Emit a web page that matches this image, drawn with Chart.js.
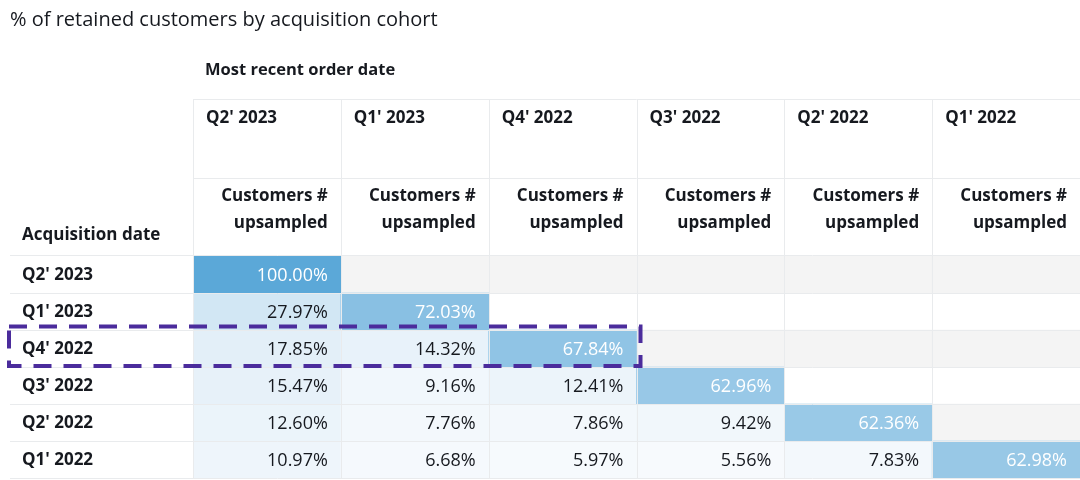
<!DOCTYPE html>
<html><head><meta charset="utf-8">
<script src="https://cdn.jsdelivr.net/npm/chart.js@4.4.1/dist/chart.umd.min.js"></script>
<style>html,body{margin:0;padding:0;background:#fff;}#wrap{width:1080px;height:480px;position:relative;}</style>
</head><body><div id="wrap"><canvas id="c" width="1080" height="480"></canvas></div>
<script>
// ---- data ----
const chartTitle = "% of retained customers by acquisition cohort";
const columnGroupTitle = "Most recent order date";
const rowGroupTitle = "Acquisition date";
const measureLabel = ["Customers #", "upsampled"];
const orderQuarters = ["Q2' 2023", "Q1' 2023", "Q4' 2022", "Q3' 2022", "Q2' 2022", "Q1' 2022"];
const acquisitionQuarters = ["Q2' 2023", "Q1' 2023", "Q4' 2022", "Q3' 2022", "Q2' 2022", "Q1' 2022"];
const retentionQ2_2023 = [100.00, null, null, null, null, null];
const retentionQ1_2023 = [27.97, 72.03, null, null, null, null];
const retentionQ4_2022 = [17.85, 14.32, 67.84, null, null, null];
const retentionQ3_2022 = [15.47, 9.16, 12.41, 62.96, null, null];
const retentionQ2_2022 = [12.60, 7.76, 7.86, 9.42, 62.36, null];
const retentionQ1_2022 = [10.97, 6.68, 5.97, 5.56, 7.83, 62.98];
const highlightedCohort = "Q4' 2022";

const rows = [retentionQ2_2023, retentionQ1_2023, retentionQ4_2022, retentionQ3_2022, retentionQ2_2022, retentionQ1_2022];

// ---- styles ----
const FONT = '"Open Sans", "Noto Sans", sans-serif';
const TEXT = '#16191f';
const GRID = '#e9ebed';
const STRIPE = '#f4f4f4';
function cellColor(v) {
  const lo = [247, 250, 253], hi = [91, 168, 216];
  const t = Math.max(0, Math.min(1, (v - 5.5) / 94.5));
  const c = lo.map((l, i) => Math.round(l + (hi[i] - l) * t));
  return `rgb(${c[0]},${c[1]},${c[2]})`;
}

const datasets = [];
rows.forEach((vals, r) => {
  datasets.push({
    label: acquisitionQuarters[r],
    data: vals.map(v => v == null ? null : [r, r + 1]),
    backgroundColor: vals.map(v => v == null ? 'rgba(0,0,0,0)' : cellColor(v)),
    order: 0
  });
});
acquisitionQuarters.forEach((q, r) => {
  if (r % 2 === 0) datasets.push({
    label: 'stripe' + r,
    data: orderQuarters.map(() => [r, r + 1]),
    backgroundColor: STRIPE,
    order: 10
  });
});

const tablePlugin = {
  id: 'table',
  afterDatasetsDraw(chart) {
    const ctx = chart.ctx;
    const xs = chart.scales.x, ys = chart.scales.y;
    const half = (xs.getPixelForValue(1) - xs.getPixelForValue(0)) / 2;
    const colL = i => xs.getPixelForValue(i) - half;
    const colR = i => xs.getPixelForValue(i) + half;
    const rowT = r => ys.getPixelForValue(r);
    const rowM = r => (ys.getPixelForValue(r) + ys.getPixelForValue(r + 1)) / 2;
    const headerTop = 99, headerMid = 178;
    const tableLeft = 10, W = chart.width;

    ctx.save();
    // grid lines
    ctx.strokeStyle = GRID; ctx.lineWidth = 1;
    const hline = (y, x0, x1) => { ctx.beginPath(); ctx.moveTo(x0, Math.round(y) + 0.5); ctx.lineTo(x1, Math.round(y) + 0.5); ctx.stroke(); };
    const vline = (x, y0, y1) => { ctx.beginPath(); ctx.moveTo(Math.round(x) + 0.5, y0); ctx.lineTo(Math.round(x) + 0.5, y1); ctx.stroke(); };
    hline(headerTop, colL(0), W);
    hline(headerMid, colL(0), W);
    for (let r = 0; r <= rows.length; r++) hline(rowT(r) - (r === 0 ? 1 : 0), tableLeft, W);
    for (let i = 0; i < orderQuarters.length; i++) vline(colL(i), headerTop, rowT(rows.length));

    // texts
    ctx.fillStyle = TEXT;
    ctx.textBaseline = 'middle';
    ctx.textAlign = 'left';
    ctx.font = `400 20px ${FONT}`;
    ctx.fillText(chartTitle, 10, 20);
    ctx.font = `700 16.5px ${FONT}`;
    ctx.fillText(columnGroupTitle, colL(0) + 12, 70);
    ctx.font = `700 17px ${FONT}`;
    ctx.fillText(rowGroupTitle, 22, 235);
    orderQuarters.forEach((q, i) => {
      ctx.textAlign = 'left';
      ctx.fillText(q, colL(i) + 13, 118);
      ctx.textAlign = 'right';
      ctx.fillText(measureLabel[0], colR(i) - 13, 196);
      ctx.fillText(measureLabel[1], colR(i) - 13, 223);
    });
    ctx.textAlign = 'left';
    acquisitionQuarters.forEach((q, r) => ctx.fillText(q, 22, rowM(r) + 1));

    // values
    ctx.font = `400 18px ${FONT}`;
    ctx.textAlign = 'right';
    rows.forEach((vals, r) => vals.forEach((v, i) => {
      if (v == null) return;
      ctx.fillStyle = v > 50 ? '#ffffff' : TEXT;
      ctx.fillText(v.toFixed(2) + '%', colR(i) - 13, rowM(r) + 1);
    }));

    // highlight
    const hr = acquisitionQuarters.indexOf(highlightedCohort);
    const hc = rows[hr].filter(v => v != null).length - 1;
    ctx.strokeStyle = '#4b2c9c';
    ctx.lineWidth = 4;
    ctx.setLineDash([18, 12]);
    const x0 = 9, x1 = colR(hc) + 4, y0 = rowT(hr) - 3.5, y1 = rowT(hr + 1) - 1;
    ctx.strokeRect(x0, y0, x1 - x0, y1 - y0);
    ctx.restore();
  }
};

new Chart(document.getElementById('c'), {
  type: 'bar',
  data: { labels: orderQuarters, datasets },
  options: {
    responsive: false,
    animation: false,
    events: [],
    layout: { padding: { left: 193, right: 0, top: 256, bottom: 2 } },
    plugins: { legend: { display: false }, tooltip: { enabled: false }, title: { display: false } },
    datasets: { bar: { grouped: false, barPercentage: 1, categoryPercentage: 1, borderWidth: 0 } },
    scales: {
      x: { type: 'category', display: false, offset: true, grid: { display: false } },
      y: { type: 'linear', min: 0, max: 6, reverse: true, display: false }
    }
  },
  plugins: [tablePlugin]
});
</script>
</body></html>
